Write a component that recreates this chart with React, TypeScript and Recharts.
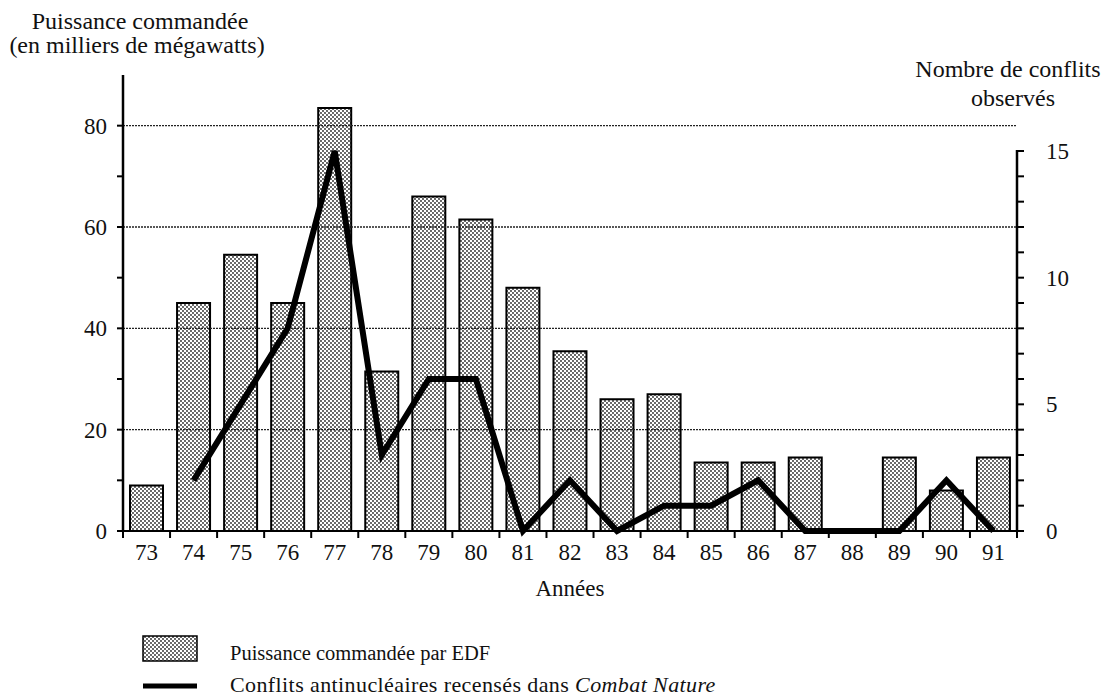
import React from "react";
import {
  ComposedChart,
  Bar,
  Line,
  XAxis,
  YAxis,
  ReferenceLine,
} from "recharts";

// années (axe horizontal)
const years = ["73", "74", "75", "76", "77", "78", "79", "80", "81", "82", "83", "84", "85", "86", "87", "88", "89", "90", "91"];
// puissance commandée par EDF, en milliers de MW (axe gauche)
const puissance = [9, 45, 54.5, 45, 83.5, 31.5, 66, 61.5, 48, 35.5, 26, 27, 13.5, 13.5, 14.5, null, 14.5, 8, 14.5];
// conflits antinucléaires recensés (axe droit)
const conflits = [null, 2, 5, 8, 15, 3, 6, 6, 0, 2, 0, 1, 1, 2, 0, 0, 0, 2, 0];

const leftTicks = [0, 10, 20, 30, 40, 50, 60, 70, 80];
const gridValues = [20, 40, 60, 80];
const rightTicks = [0, 1, 2, 3, 4, 5, 6, 7, 8, 9, 10, 11, 12, 13, 14, 15];

const data = years.map((y, i) => ({ year: y, puissance: puissance[i], conflits: conflits[i] }));

const FONT = '"Liberation Serif", "Times New Roman", "DejaVu Serif", serif';
const W = 1110;
const H = 610;
const MARGIN = { top: 75, right: 33, bottom: 39, left: 63 };
const Y_W = 60;
const X_H = 40;
const PLOT_W = W - MARGIN.left - MARGIN.right - 2 * Y_W;
const PLOT_H = H - MARGIN.top - MARGIN.bottom - X_H;
const STEP_X = PLOT_W / years.length;
const RIGHT_MAX = 18;
const STEP_R = PLOT_H / RIGHT_MAX;
const R_TICK = 7;
const R_MARGIN = 22;

const txt = { fontFamily: FONT, fontSize: 23, fill: "#111" };

function YearTick(props: any) {
  const { x, y, payload, index } = props;
  return (
    <g>
      <line x1={x - STEP_X / 2} y1={y} x2={x - STEP_X / 2} y2={y + 7} stroke="#000" strokeWidth={2} />
      {index === years.length - 1 && (
        <line x1={x + STEP_X / 2} y1={y} x2={x + STEP_X / 2} y2={y + 7} stroke="#000" strokeWidth={2} />
      )}
      <text x={x} y={y + 29} textAnchor="middle" style={txt}>
        {payload.value}
      </text>
    </g>
  );
}

function RightTick(props: any) {
  const { x, y, payload } = props;
  const axisX = x - R_TICK - R_MARGIN;
  return (
    <g>
      {payload.value === 0 && (
        <line x1={axisX} y1={y + 1} x2={axisX} y2={y - 15 * STEP_R - 1} stroke="#000" strokeWidth={2.5} />
      )}
      {payload.value % 5 === 0 && (
        <text x={x} y={y} dy="0.35em" textAnchor="start" style={txt}>
          {payload.value}
        </text>
      )}
    </g>
  );
}

function LeftTick(props: any) {
  const { x, y, payload } = props;
  if (payload.value % 20 !== 0) return null;
  return (
    <text x={x} y={y} dy="0.35em" textAnchor="end" style={txt}>
      {payload.value}
    </text>
  );
}

export default function App() {
  return (
    <div style={{ position: "absolute", left: 0, top: 0, width: W, height: 700, background: "#fff", fontFamily: FONT }}>
      <ComposedChart width={W} height={H} data={data} margin={MARGIN}>
        <defs>
          <pattern id="stipple" width="4" height="4" patternUnits="userSpaceOnUse">
            <rect width="4" height="4" fill="#fff" />
            <circle cx="1" cy="1" r="0.9" fill="#222" />
            <circle cx="3" cy="3" r="0.9" fill="#222" />
          </pattern>
        </defs>
        <XAxis
          dataKey="year"
          height={X_H}
          tickLine={false}
          tickSize={0}
          tickMargin={0}
          axisLine={{ stroke: "#000", strokeWidth: 2 }}
          tick={<YearTick />}
          interval={0}
        />
        <YAxis
          yAxisId="left"
          width={Y_W}
          domain={[0, 90]}
          ticks={leftTicks}
          tickSize={6}
          tickMargin={10}
          axisLine={{ stroke: "#000", strokeWidth: 2.5 }}
          tickLine={{ stroke: "#000", strokeWidth: 2 }}
          tick={<LeftTick />}
        />
        <YAxis
          yAxisId="right"
          orientation="right"
          width={Y_W}
          domain={[0, RIGHT_MAX]}
          ticks={rightTicks}
          tickSize={R_TICK}
          tickMargin={R_MARGIN}
          axisLine={false}
          tickLine={{ stroke: "#000", strokeWidth: 2 }}
          tick={<RightTick />}
        />
        {gridValues.map((v) => (
          <ReferenceLine key={v} yAxisId="left" y={v} stroke="#222" strokeWidth={1.3} strokeDasharray="2 1" />
        ))}
        <Bar
          yAxisId="left"
          dataKey="puissance"
          barSize={33}
          fill="url(#stipple)"
          stroke="#000"
          strokeWidth={2}
          isAnimationActive={false}
        />
        <Line
          yAxisId="right"
          dataKey="conflits"
          type="linear"
          stroke="#000"
          strokeWidth={6}
          dot={false}
          activeDot={false}
          isAnimationActive={false}
        />
      </ComposedChart>
      <svg
        width={W}
        height={700}
        style={{ position: "absolute", left: 0, top: 0, pointerEvents: "none", fontFamily: FONT }}
        fill="#111"
      >
        <text x={140} y={29} textAnchor="middle" style={{ ...txt, fontSize: 24 }}>Puissance commandée</text>
        <text x={137} y={53} textAnchor="middle" style={{ ...txt, fontSize: 24 }}>(en milliers de mégawatts)</text>
        <text x={1008} y={77} textAnchor="middle" style={{ ...txt, fontSize: 24 }}>Nombre de conflits</text>
        <text x={1013} y={106} textAnchor="middle" style={{ ...txt, fontSize: 24 }}>observés</text>
        <text x={570} y={596} textAnchor="middle" style={txt}>Années</text>
        <rect x={143} y={636} width={54} height={25} fill="url(#stipple)" stroke="#000" strokeWidth={1.5} />
        <text x={230} y={660} style={{ ...txt, fontSize: 20.5 }}>Puissance commandée par EDF</text>
        <line x1={143} y1={686} x2={197} y2={686} stroke="#000" strokeWidth={5} />
        <text x={230} y={692} style={{ ...txt, fontSize: 22, letterSpacing: 0.4 }}>
          Conflits antinucléaires recensés dans <tspan style={{ fontStyle: "italic" }}>Combat Nature</tspan>
        </text>
      </svg>
    </div>
  );
}
